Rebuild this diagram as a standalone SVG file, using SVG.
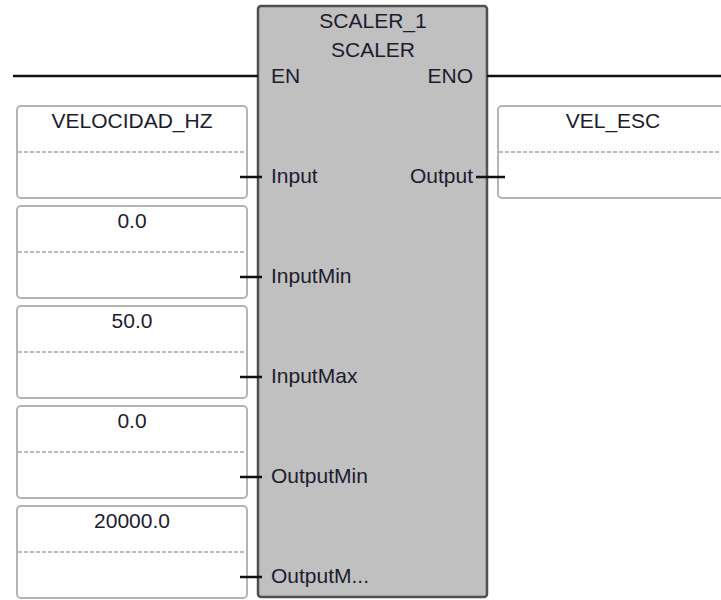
<svg xmlns="http://www.w3.org/2000/svg" width="721" height="600" viewBox="0 0 721 600">
  <style>
    text { font-family: "Liberation Sans", Arial, sans-serif; font-size: 21px; fill: #1c1c2e; }
    .c { text-anchor: middle; }
    .r { text-anchor: end; }
    .var { fill: #ffffff; stroke: #b4b4b4; stroke-width: 2; }
    .dash { stroke: #bdbdbd; stroke-width: 2; stroke-dasharray: 4 2; fill: none; }
    .wire { stroke: #111111; stroke-width: 2.5; fill: none; }
    .blk { fill: #c0c0c0; stroke: #505050; stroke-width: 2.5; }
  </style>
  <rect width="721" height="600" fill="#ffffff"/>

  <g id="block">
    <rect class="blk" x="258" y="6" width="229" height="591" rx="3"/>
    <text class="c" x="373" y="28">SCALER_1</text>
    <text class="c" x="373" y="57">SCALER</text>
    <text x="271" y="83">EN</text>
    <text class="r" x="473" y="83">ENO</text>
    <text x="271" y="183">Input</text>
    <text class="r" x="473" y="183">Output</text>
    <text x="271" y="283">InputMin</text>
    <text x="271" y="383">InputMax</text>
    <text x="271" y="483">OutputMin</text>
    <text x="271" y="583">OutputM...</text>
  </g>

  <g id="var-velocidad">
    <rect class="var" x="17" y="106" width="230" height="92" rx="4"/>
    <line class="dash" x1="18" y1="152" x2="246" y2="152"/>
    <text class="c" x="132" y="128">VELOCIDAD_HZ</text>
  </g>
  <g id="var-inputmin">
    <rect class="var" x="17" y="206" width="230" height="92" rx="4"/>
    <line class="dash" x1="18" y1="252" x2="246" y2="252"/>
    <text class="c" x="132" y="228">0.0</text>
  </g>
  <g id="var-inputmax">
    <rect class="var" x="17" y="306" width="230" height="92" rx="4"/>
    <line class="dash" x1="18" y1="352" x2="246" y2="352"/>
    <text class="c" x="132" y="328">50.0</text>
  </g>
  <g id="var-outputmin">
    <rect class="var" x="17" y="406" width="230" height="92" rx="4"/>
    <line class="dash" x1="18" y1="452" x2="246" y2="452"/>
    <text class="c" x="132" y="428">0.0</text>
  </g>
  <g id="var-outputmax">
    <rect class="var" x="17" y="506" width="230" height="92" rx="4"/>
    <line class="dash" x1="18" y1="552" x2="246" y2="552"/>
    <text class="c" x="132" y="528">20000.0</text>
  </g>
  <g id="var-velesc">
    <rect class="var" x="498" y="106" width="230" height="92" rx="4"/>
    <line class="dash" x1="499" y1="152" x2="721" y2="152"/>
    <text class="c" x="613" y="128">VEL_ESC</text>
  </g>

  <g id="connectors">
    <line class="wire" x1="13" y1="76" x2="258" y2="76"/>
    <line class="wire" x1="487" y1="76" x2="721" y2="76"/>
    <line class="wire" x1="240" y1="177" x2="262" y2="177"/>
    <line class="wire" x1="240" y1="277" x2="262" y2="277"/>
    <line class="wire" x1="240" y1="377" x2="262" y2="377"/>
    <line class="wire" x1="240" y1="477" x2="262" y2="477"/>
    <line class="wire" x1="240" y1="577" x2="262" y2="577"/>
    <line class="wire" x1="476" y1="177" x2="505" y2="177"/>
  </g>
</svg>
